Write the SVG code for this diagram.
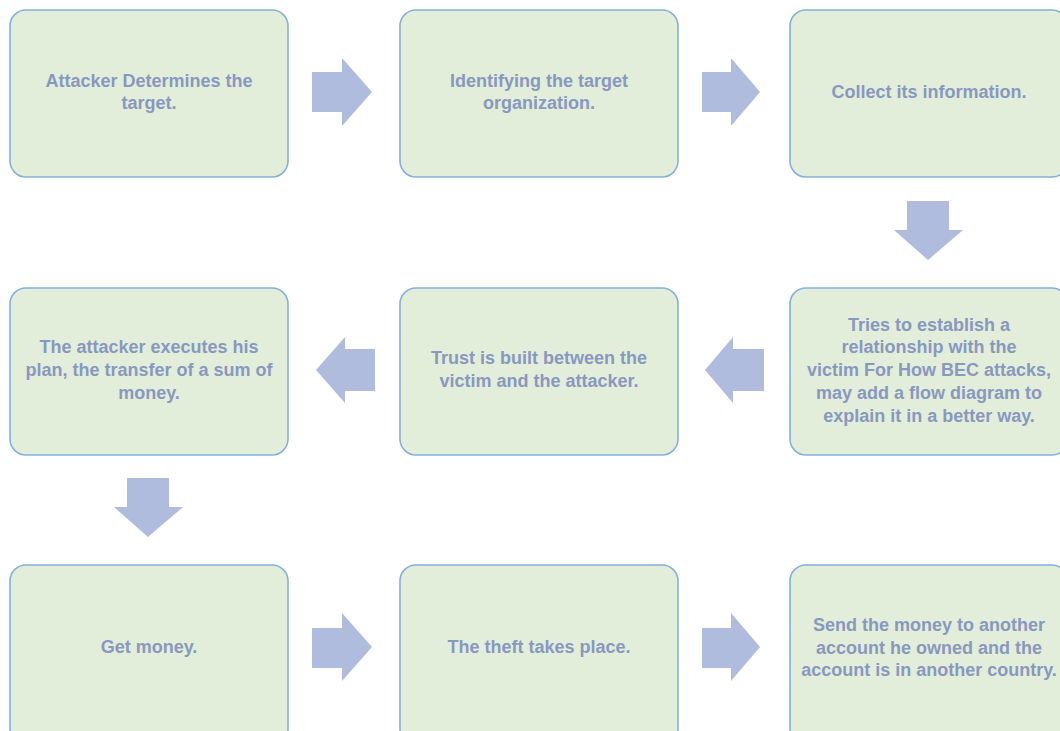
<svg xmlns="http://www.w3.org/2000/svg" width="1060" height="731" viewBox="0 0 1060 731">
<style>
.box{fill:#e2eed9;stroke:#85b0dc;stroke-width:1.6}
.t{font-family:"Liberation Sans",Arial,sans-serif;font-size:18px;font-weight:bold;fill:#8898c0;text-anchor:middle}
.arr{fill:#b0bcde}
</style>
<rect width="1060" height="731" fill="#ffffff"/>
<g id="n1"><rect class="box" x="10" y="10" width="278" height="167" rx="16"/><text class="t" x="149" y="87">Attacker Determines the</text><text class="t" x="149" y="109">target.</text></g>
<g id="n2"><rect class="box" x="400" y="10" width="278" height="167" rx="16"/><text class="t" x="539" y="87">Identifying the target</text><text class="t" x="539" y="109">organization.</text></g>
<g id="n3"><rect class="box" x="790" y="10" width="278" height="167" rx="16"/><text class="t" x="929" y="98">Collect its information.</text></g>
<g id="n4"><rect class="box" x="790" y="288" width="278" height="167" rx="16"/><text class="t" x="929" y="331">Tries to establish a</text><text class="t" x="929" y="353">relationship with the</text><text class="t" x="929" y="376">victim For How BEC attacks,</text><text class="t" x="929" y="399">may add a flow diagram to</text><text class="t" x="929" y="422">explain it in a better way.</text></g>
<g id="n5"><rect class="box" x="400" y="288" width="278" height="167" rx="16"/><text class="t" x="539" y="364">Trust is built between the</text><text class="t" x="539" y="387">victim and the attacker.</text></g>
<g id="n6"><rect class="box" x="10" y="288" width="278" height="167" rx="16"/><text class="t" x="149" y="353">The attacker executes his</text><text class="t" x="149" y="376">plan, the transfer of a sum of</text><text class="t" x="149" y="399">money.</text></g>
<g id="n7"><rect class="box" x="10" y="565" width="278" height="180" rx="16"/><text class="t" x="149" y="653">Get money.</text></g>
<g id="n8"><rect class="box" x="400" y="565" width="278" height="180" rx="16"/><text class="t" x="539" y="653">The theft takes place.</text></g>
<g id="n9"><rect class="box" x="790" y="565" width="278" height="180" rx="16"/><text class="t" x="929" y="631">Send the money to another</text><text class="t" x="929" y="654">account he owned and the</text><text class="t" x="929" y="676">account is in another country.</text></g>
<g id="connectors">
<polygon class="arr" points="312,72 342,72 342,58 372,92 342,126 342,112 312,112"/>
<polygon class="arr" points="702,72 731,72 731,58 760,92 731,126 731,112 702,112"/>
<polygon class="arr" points="907,201 949,201 949,230 963,230 928,260 894,230 907,230"/>
<polygon class="arr" points="764,349 733,349 733,337 705,370 733,403 733,391 764,391"/>
<polygon class="arr" points="375,349 345,349 345,337 316,370 345,403 345,391 375,391"/>
<polygon class="arr" points="127,478 169,478 169,507 183,507 148,537 114,507 127,507"/>
<polygon class="arr" points="312,628 342,628 342,613 372,647 342,681 342,668 312,668"/>
<polygon class="arr" points="702,628 731,628 731,613 760,647 731,681 731,668 702,668"/>
</g>
</svg>
